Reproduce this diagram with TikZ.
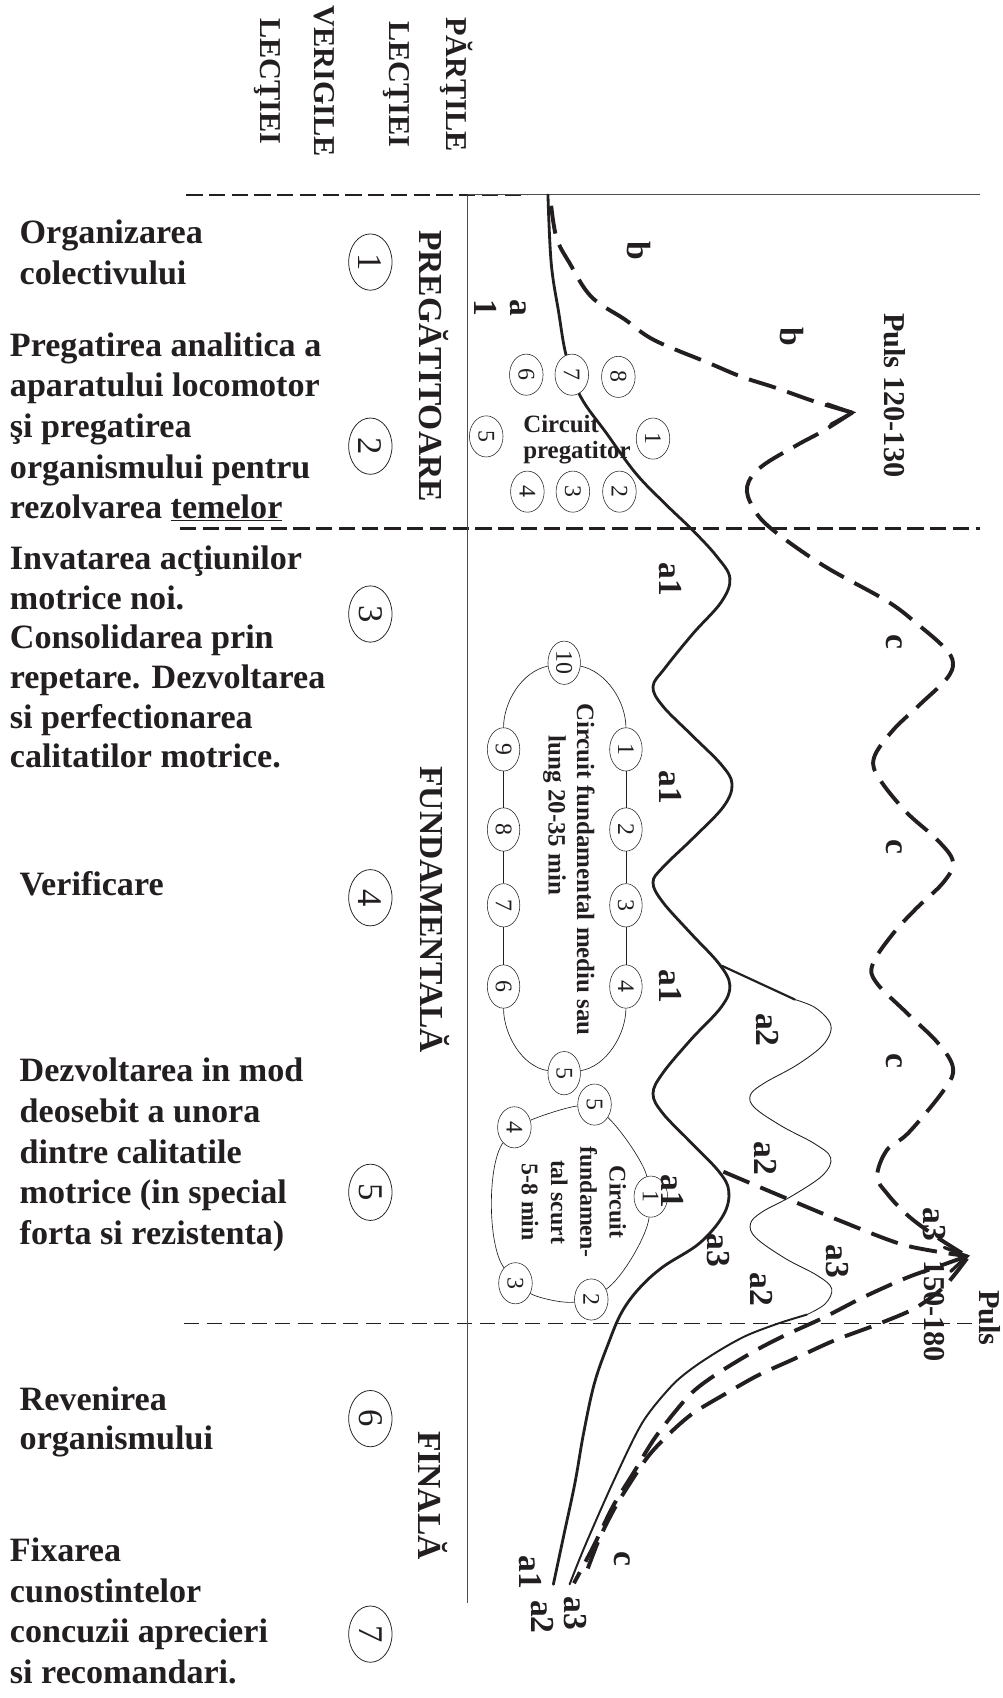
\documentclass[tikz,border=0pt]{standalone}
\usepackage{fontspec}
\setmainfont{Liberation Serif}
\usetikzlibrary{shapes.geometric}
\definecolor{inkDark}{HTML}{231F20}
\definecolor{axisGray}{HTML}{4D4D4D}

\begin{document}
\begin{tikzpicture}[
  x=1pt, y=-1pt,
  every node/.style={text=inkDark},
  veriga/.style={anchor=north west, align=left, inner sep=0pt,
                 font=\fontsize{31.5}{37.5}\selectfont\bfseries},
  parte/.style={rotate=-90, inner sep=0pt, font=\fontsize{31}{36}\selectfont\bfseries},
  antet/.style={rotate=-90, align=center, inner sep=0pt},
  nrmare/.style={ellipse, draw=inkDark, fill=white, line width=0.7pt, rotate=-90,
                 inner sep=0pt, minimum width=52pt, minimum height=40pt,
                 font=\fontsize{32}{32}\selectfont},
  nrmic/.style={ellipse, draw=inkDark, fill=white, line width=0.5pt, rotate=-90,
                inner sep=0pt, minimum width=38pt, minimum height=31pt,
                font=\fontsize{22}{22}\selectfont},
  eticheta/.style={rotate=-90, inner sep=0pt, font=\fontsize{31}{34}\selectfont\bfseries},
  despart/.style={draw=inkDark, line width=2.2pt, dash pattern=on 15pt off 6pt},
  despartsub/.style={draw=inkDark, line width=1pt, dash pattern=on 14pt off 7pt},
  axa/.style={draw=axisGray, line width=1pt},
  plin/.style={draw=inkDark, line width=2.6pt, line join=round, line cap=round},
  punctat/.style={draw=inkDark, line width=3.6pt, dash pattern=on 26pt off 11pt},
  subtire/.style={draw=inkDark, line width=0.8pt},
  contur/.style={draw=inkDark, line width=0.6pt}
]
\useasboundingbox (0,0) rectangle (926,1568);

% antet
\node[antet, font=\fontsize{28}{53}\selectfont\bfseries] (parti) at (395,78) {PĂRŢILE\\LECŢIEI};
\node[antet, font=\fontsize{28}{50}\selectfont\bfseries] (verigi) at (272,75) {VERIGILE\\LECŢIEI};

% despartitoare si axe
\draw[despart] (172,180) -- (487,180);
\draw[despart] (166,488) -- (905,488);
\draw[despartsub] (170,1222) -- (905,1222);
\draw[axa] (432,180) -- (905,180);
\draw[axa] (432,180) -- (432,1480);

% curba a1
\draw[plin] plot[smooth, tension=0.6] coordinates {(506,180) (509,243) (516,289) (523,329) (536,366)
  (560,400) (587,437) (614,465) (640,490) (662,514) (674,534) (666,556) (640,585) (614,617) (603,634)
  (612,652) (640,680) (666,706) (676,724) (668,745) (640,774) (612,801) (603,815) (612,833) (638,862)
  (664,890) (674,910) (666,930) (638,960) (612,991) (603,1010) (612,1028) (638,1055) (664,1082)
  (673,1100) (668,1122) (646,1148) (612,1170) (590,1190) (574,1212) (562,1240) (549,1277) (539,1323)
  (531,1369) (521,1416) (511,1463)};

% curba a2
\draw[plin, line width=2pt] (667,892) -- (734,923);
\draw[subtire] plot[smooth, tension=0.6] coordinates {(734,923) (752,930) (765,942) (767,953) (758,967)
  (735,984) (706,1000) (693,1011) (697,1023) (722,1040) (752,1056) (767,1069) (760,1085) (732,1104)
  (704,1119) (693,1130) (698,1143) (725,1162) (755,1178) (768,1190) (762,1204) (745,1214)};
\draw[plin, line width=1.8pt] plot[smooth] coordinates {(745,1214) (719,1222) (690,1233) (666,1246)
  (640,1263) (620,1280) (593,1314) (566,1369) (540,1428) (526,1463)};

% curbele b si c
\draw[punctat] plot[smooth, tension=0.6] coordinates {(509,190) (514,220) (526,243) (546,274) (577,295)
  (604,314) (654,335) (685,348) (716,358) (753,371) (787,381)};
\draw[punctat] plot[smooth, tension=0.6] coordinates {(787,381) (760,398) (736,411) (703,431) (690,449)
  (695,468) (712,488) (760,522) (819,555) (848,577) (872,598) (880,612) (874,627) (849,651) (824,675)
  (807,700) (812,719) (837,750) (866,776) (880,796) (871,815) (846,839) (824,863) (806,890) (809,907)
  (837,935) (866,963) (880,986) (872,1006) (839,1046) (819,1062) (810,1086) (819,1102) (839,1123)
  (866,1143) (893,1160)};
\draw[plin, line width=3pt, line join=miter] (764,373) -- (787,381) -- (767,392);
\draw[plin, line width=3pt, line join=miter] (872,1152) -- (893,1160) -- (878,1174);

% a3 si revenirea
\draw[punctat] plot[smooth] coordinates {(668,1082) (720,1104) (780,1129) (836,1150) (893,1160)};
\draw[punctat] plot[smooth] coordinates {(893,1160) (865,1170) (837,1180) (797,1198) (760,1217)
  (725,1233) (696,1248) (660,1270) (636,1289) (606,1326) (585,1360) (566,1391) (548,1428) (530,1462)};
\draw[punctat] plot[smooth] coordinates {(893,1162) (872,1188) (845,1208) (810,1223) (770,1238)
  (733,1255) (700,1270) (670,1287) (640,1305) (619,1323) (600,1343) (586,1363) (568,1392) (553,1422)
  (540,1456)};

% circuit pregatitor
\foreach \n/\x/\y in {1/603/405, 2/572/454, 3/529/454, 4/487/454, 5/449/403, 6/486/346, 7/528/346, 8/571/348}
  \node[nrmic] (p\n) at (\x,\y) {\n};
\node[anchor=north west, align=left, inner sep=0pt, font=\fontsize{23}{24}\selectfont\bfseries]
  (circpreg) at (483,383) {Circuit\\pregatitor};

% circuit fundamental mediu sau lung
\foreach \n/\x/\y in {10/521/612, 1/578/692, 2/578/766, 3/578/836, 4/578/911,
                      5/521/991, 6/465/911, 7/465/836, 8/465/766, 9/465/692}
  \node[nrmic, minimum width=40pt, minimum height=30pt] (f\n) at (\x,\y) {\n};
\draw[contur] (f1) -- (f2) -- (f3) -- (f4);
\draw[contur] (f6) -- (f7) -- (f8) -- (f9);
\draw[contur] (f10) .. controls (560,620) and (578,648) .. (f1);
\draw[contur] (f4) .. controls (578,955) and (560,985) .. (f5);
\draw[contur] (f5) .. controls (482,985) and (465,955) .. (f6);
\draw[contur] (f9) .. controls (465,648) and (482,620) .. (f10);
\node[eticheta, font=\fontsize{23}{29}\selectfont\bfseries] (circfund) at (541,803) {Circuit fundamental mediu sau};
\node[eticheta, font=\fontsize{23}{29}\selectfont\bfseries] (circfundlung) at (512,753) {lung 20-35 min};

% circuit fundamental scurt
\foreach \n/\x/\y in {1/601/1105, 2/546/1200, 3/476/1185, 4/475/1041, 5/549/1020}
  \node[nrmic] (s\n) at (\x,\y) {\n};
\draw[contur] (s5) .. controls (575,1045) and (595,1075) .. (s1);
\draw[contur] (s1) .. controls (598,1140) and (575,1180) .. (s2);
\draw[contur] (s2) .. controls (520,1204) and (495,1198) .. (s3);
\draw[contur] (s3) .. controls (450,1150) and (450,1075) .. (s4);
\draw[contur] (s4) .. controls (500,1030) and (525,1022) .. (s5);
\node[eticheta, align=center, font=\fontsize{22}{27}\selectfont\bfseries]
  (circscurt) at (530,1110) {Circuit\\fundamen-\\tal scurt\\5-8 min};

% verigile lectiei
\foreach \n/\y in {1/242, 2/412, 3/567, 4/829, 5/1101, 6/1310, 7/1509}
  \node[nrmare] (v\n) at (342,\y) {\n};

\node[parte] (pregatitoare) at (401,338) {PREGĂTITOARE};
\node[parte] (fundamentala) at (402,840) {FUNDAMENTALĂ};
\node[parte] (finala) at (400,1381) {FINALĂ};

\node[veriga] (organizare) at (18,203) {Organizarea\\colectivului};
\node[veriga] (pregatire) at (9,307) {Pregatirea analitica a\\aparatului locomotor\\şi pregatirea\\organismului pentru\\rezolvarea \underline{temelor}};
\node[veriga, font=\fontsize{31.5}{36.6}\selectfont\bfseries] (invatare) at (9,504) {Invatarea acţiunilor\\motrice noi.\\Consolidarea prin\\repetare. Dezvoltarea\\si perfectionarea\\calitatilor motrice.};
\node[veriga] (verificare) at (18,805) {Verificare};
\node[veriga] (dezvoltare) at (18,977) {Dezvoltarea in mod\\deosebit a unora\\dintre calitatile\\motrice (in special\\forta si rezistenta)};
\node[veriga, font=\fontsize{31.5}{36}\selectfont\bfseries] (revenire) at (18,1280) {Revenirea\\organismului};
\node[veriga] (fixare) at (9,1420) {Fixarea\\cunostintelor\\concuzii aprecieri\\si recomandari.};

% etichete curbe
\node[eticheta] (lb1) at (590,232) {b};
\node[eticheta] (lb2) at (731,311) {b};
\node[eticheta, align=center] (la) at (462,284) {a\\1};
\node[eticheta, font=\fontsize{28}{28}\selectfont\bfseries] (puls1) at (826,365) {Puls 120-130};
\foreach \t/\x/\y [count=\i] in {a1/619/535, a1/619/727, a1/619/911, a1/621/1100, a1/490/1452,
    a2/709/951, a2/707/1070, a2/703/1191, a2/501/1493, a3/663/1155, a3/773/1165, a3/863/1131,
    a3/531/1490, c/826/593, c/826/782, c/826/980, c/575/1440}
  \node[eticheta] (e\i) at (\x,\y) {\t};
\node[eticheta, font=\fontsize{28}{28}\selectfont\bfseries] (puls2) at (914,1217) {Puls};
\node[eticheta, font=\fontsize{28}{28}\selectfont\bfseries] (puls2val) at (863,1211) {150-180};
\end{tikzpicture}
\end{document}
